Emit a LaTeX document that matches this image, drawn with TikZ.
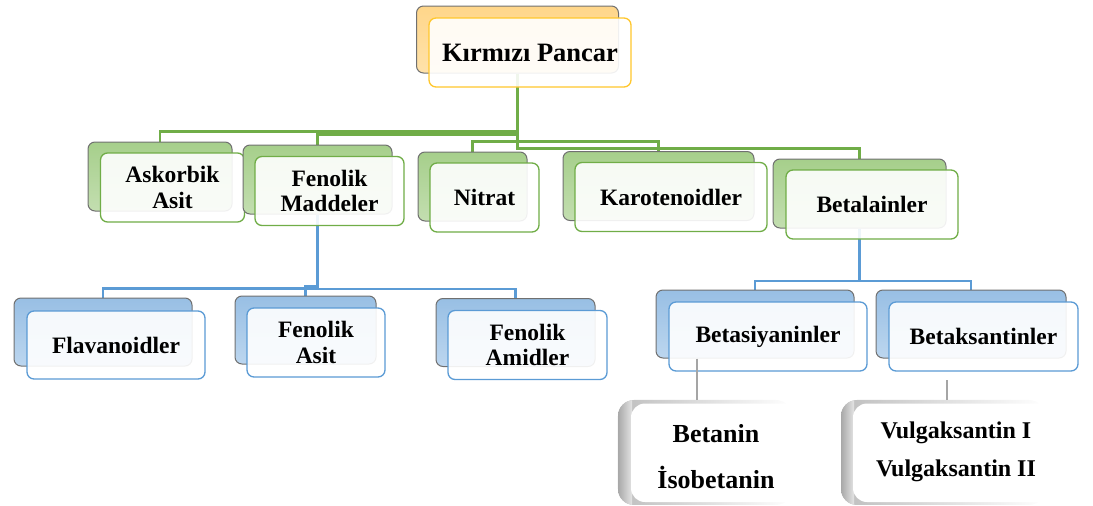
\documentclass[tikz,border=0pt]{standalone}
\usepackage{fontspec}
\setmainfont{Liberation Serif}
\usetikzlibrary{fadings,backgrounds}

\definecolor{lnGreen}{HTML}{70AD47}
\definecolor{lnBlue}{HTML}{5B9BD5}
\definecolor{lnGray}{HTML}{A5A5A5}
\definecolor{frGold}{HTML}{FFC72C}
\definecolor{edgeGray}{HTML}{707070}
\definecolor{bkOrangeT}{HTML}{FFD68A}
\definecolor{bkOrangeB}{HTML}{FFE2AA}
\definecolor{bkGreenT}{HTML}{A6CF8B}
\definecolor{bkGreenB}{HTML}{C3DEB0}
\definecolor{bkBlueT}{HTML}{98BFE4}
\definecolor{bkBlueB}{HTML}{BCD6EF}
\definecolor{lThreeEdge}{HTML}{BEBEBE}
\definecolor{lThreeDark}{HTML}{A8A8A8}
\definecolor{lThreeLight}{HTML}{E4E4E4}

\newcommand\lblfont{\fontsize{23.5}{25.5}\selectfont\bfseries}
\newcommand\rootfont{\fontsize{26.5}{28}\selectfont\bfseries}

\tikzfading[name=fadeoutright, left color=transparent!0, middle color=transparent!0, right color=transparent!100]

\tikzset{
  backbox/.style={draw=edgeGray, line width=1pt, rounded corners=7pt, inner sep=0pt},
  frontbox/.style={rounded corners=7pt, fill=white, fill opacity=0.9, text opacity=1,
                   line width=1.3pt, align=center, font=\lblfont, inner sep=0pt},
  orangeback/.style={backbox, top color=bkOrangeT, bottom color=bkOrangeB},
  greenback/.style={backbox, top color=bkGreenT, bottom color=bkGreenB},
  blueback/.style={backbox, top color=bkBlueT, bottom color=bkBlueB},
  orangefront/.style={frontbox, draw=frGold},
  greenfront/.style={frontbox, draw=lnGreen},
  bluefront/.style={frontbox, draw=lnBlue},
  greenlink/.style={draw=lnGreen, line width=2.4pt},
  bluelink/.style={draw=lnBlue, line width=2.6pt},
  graylink/.style={draw=lnGray, line width=2.4pt},
  leaftext/.style={align=center, inner sep=0pt}
}

\begin{document}
\begin{tikzpicture}[x=1pt,y=-1pt]
\useasboundingbox (0,0) rectangle (1093,506);

% root
\node[orangeback, minimum width=202pt, minimum height=67pt] (rootB) at (517.5,39.5) {};
\node[orangefront, minimum width=202pt, minimum height=69pt, font=\rootfont] (root) at (530,52.5) {Kırmızı Pancar};

% first level
\node[greenback, minimum width=144pt, minimum height=69pt] (askB) at (160,176.5) {};
\node[greenfront, minimum width=144pt, minimum height=69pt] (ask) at (172.5,187.5) {Askorbik\\Asit};

\node[greenback, minimum width=149pt, minimum height=69pt] (fenB) at (317.5,179.5) {};
\node[greenfront, minimum width=149pt, minimum height=69pt] (fen) at (329.5,191) {Fenolik\\Maddeler};

\node[greenback, minimum width=109pt, minimum height=69pt] (nitB) at (472.5,186.5) {};
\node[greenfront, minimum width=109pt, minimum height=69pt] (nit) at (484.5,197.5) {Nitrat};

\node[greenback, minimum width=191pt, minimum height=69pt] (karB) at (658.5,186) {};
\node[greenfront, minimum width=192pt, minimum height=69pt] (kar) at (671,197) {Karotenoidler};

\node[greenback, minimum width=173pt, minimum height=69pt] (betB) at (859.5,193.5) {};
\node[greenfront, minimum width=172pt, minimum height=69pt] (bet) at (872,204.5) {Betalainler};

% second level
\node[blueback, minimum width=178pt, minimum height=68pt] (flaB) at (103,332) {};
\node[bluefront, minimum width=178pt, minimum height=68pt] (fla) at (116,345) {Flavanoidler};

\node[blueback, minimum width=141pt, minimum height=68pt] (fasB) at (305.5,330) {};
\node[bluefront, minimum width=138pt, minimum height=69pt] (fas) at (316,342.5) {Fenolik\\Asit};

\node[blueback, minimum width=159pt, minimum height=68pt] (famB) at (515.5,332.5) {};
\node[bluefront, minimum width=159pt, minimum height=69pt] (fam) at (527.5,345) {Fenolik\\Amidler};

\node[blueback, minimum width=198pt, minimum height=68pt] (bsyB) at (755,324) {};
\node[bluefront, minimum width=198pt, minimum height=69pt] (bsy) at (768,336.5) {Betasiyaninler};

\node[blueback, minimum width=190pt, minimum height=68pt] (bksB) at (971,324) {};
\node[bluefront, minimum width=189pt, minimum height=69pt] (bks) at (983.5,336.5) {Betaksantinler};

% elbow connectors, kept under the boxes
\begin{scope}[on background layer]
  \draw[greenlink] (rootB.south) |- (160,131.5) -- (askB.north);
  \draw[greenlink] (rootB.south) |- (317.5,134.5) -- (fenB.north);
  \draw[greenlink] (rootB.south) |- (472.5,141.5) -- (nitB.north);
  \draw[greenlink] (rootB.south) |- (658.5,141.5) -- (karB.north);
  \draw[greenlink] (rootB.south) |- (859.5,148.5) -- (betB.north);

  \draw[bluelink] (fenB.south) |- (103,288.5) -- (flaB.north);
  \draw[bluelink] (fenB.south) |- (305.5,286) -- (fasB.north);
  \draw[bluelink] (fenB.south) |- (515.5,289) -- (famB.north);

  \draw[bluelink] (betB.south) |- (755,281) -- (bsyB.north);
  \draw[bluelink] (betB.south) |- (971,281) -- (bksB.north);
\end{scope}

% third level panels: grey bevel on the left, fading out to the right
\foreach \xa/\xb/\xc in {618/631/792, 841/853/1045}{
  \fill[lThreeEdge, rounded corners=16pt, path fading=fadeoutright] (\xa,400) rectangle (\xc,505);
  \begin{scope}
    \clip[rounded corners=16pt] (\xa,400) rectangle (\xc,505);
    \shade[left color=lThreeDark, right color=lThreeLight] (\xa,400) rectangle (\xb+1,505);
  \end{scope}
  \fill[white, rounded corners=14pt] (\xb,403.5) rectangle (\xc+20,502);
}

\coordinate (betaninTop) at (697,400);
\coordinate (vulgaTop) at (947,400);
\coordinate (vulgaStem) at (947,380);

\node[leaftext, font=\fontsize{26}{46}\selectfont\bfseries] (betanin) at (716,457) {Betanin\\İsobetanin};
\node[leaftext, font=\fontsize{24}{38}\selectfont\bfseries] (vulga) at (956,452) {Vulgaksantin I\\Vulgaksantin II};

\draw[graylink] (bsyB.south -| betaninTop) -- (betaninTop);
\draw[graylink] (vulgaStem) -- (vulgaTop);
\end{tikzpicture}
\end{document}
